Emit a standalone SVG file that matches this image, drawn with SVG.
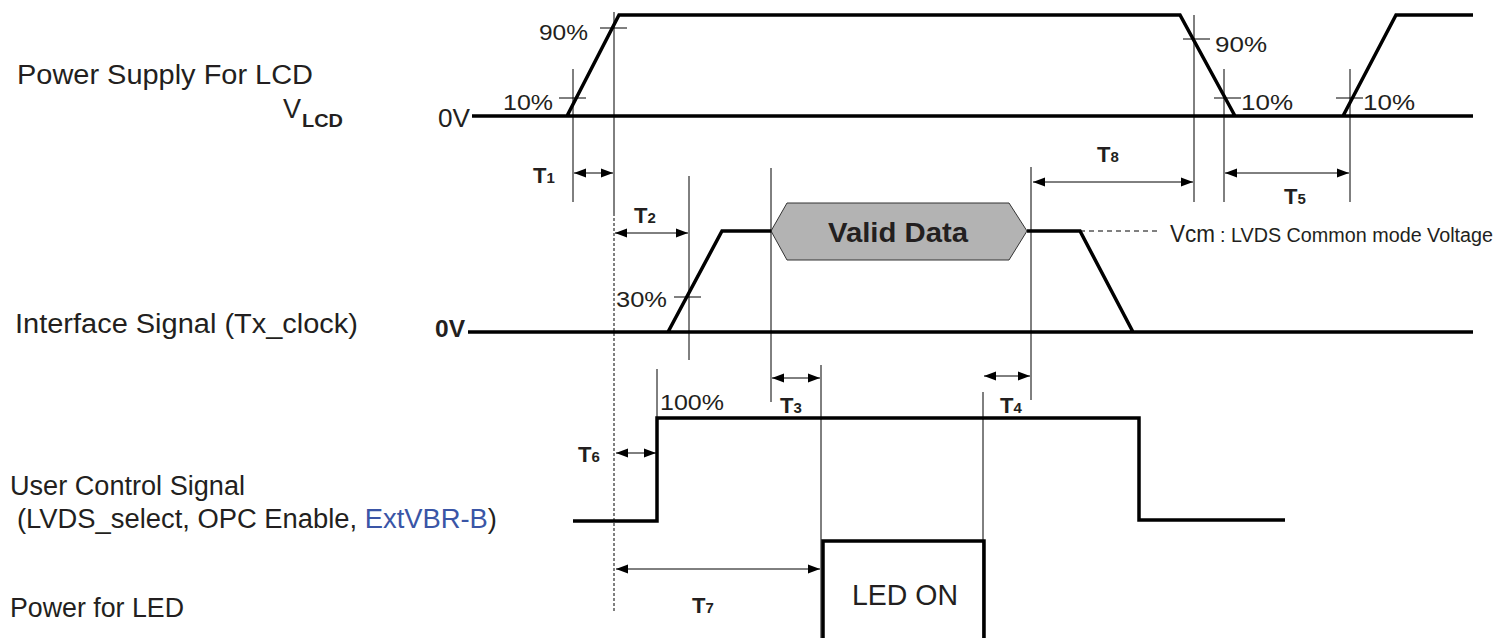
<svg xmlns="http://www.w3.org/2000/svg" width="1497" height="638" viewBox="0 0 1497 638">
<style>
text{font-family:"Liberation Sans",Arial,sans-serif;fill:#231f20}
.lbl{font-size:27px}
.pct{font-size:22px}
.t{font-size:22px;font-weight:bold}
.sub{font-size:15px;font-weight:bold}
.sig{fill:none;stroke:#000;stroke-width:3.5;stroke-linejoin:miter}
.ref{fill:none;stroke:#000;stroke-width:1}
.tick{fill:none;stroke:#000;stroke-width:1}
.arr{fill:none;stroke:#000;stroke-width:1;marker-start:url(#ah);marker-end:url(#ah)}
</style>
<defs>
<marker id="ah" markerUnits="userSpaceOnUse" markerWidth="13" markerHeight="10" refX="12" refY="4.5" orient="auto-start-reverse" viewBox="0 0 13 9">
<path d="M0,0 L12,4.5 L0,9 z" fill="#000"/>
</marker>
</defs>
<rect width="1497" height="638" fill="#fff"/>

<g id="labels">
<text class="lbl" x="17" y="84" textLength="296" lengthAdjust="spacingAndGlyphs">Power Supply For LCD</text>
<text class="lbl" x="283" y="118">V</text>
<text x="302" y="127" style="font-size:19px;font-weight:bold" textLength="41" lengthAdjust="spacingAndGlyphs">LCD</text>
<text class="lbl" x="15" y="333" textLength="343" lengthAdjust="spacingAndGlyphs">Interface Signal (Tx_clock)</text>
<text class="lbl" x="10" y="495" textLength="235" lengthAdjust="spacingAndGlyphs">User Control Signal</text>
<text class="lbl" x="17" y="528" textLength="480" lengthAdjust="spacingAndGlyphs">(LVDS_select, OPC Enable, <tspan style="fill:#3a55a6">ExtVBR-B</tspan>)</text>
<text class="lbl" x="10" y="617" textLength="174" lengthAdjust="spacingAndGlyphs">Power for LED</text>
</g>

<g id="vlcd">
<text x="438" y="127" style="font-size:25px" textLength="32" lengthAdjust="spacingAndGlyphs">0V</text>
<path class="sig" d="M472,116 H1473 M567,116 L619,15 H1180 L1235,116 M1343,116 L1396,15 H1473"/>
<text class="pct" x="539" y="40" textLength="49" lengthAdjust="spacingAndGlyphs">90%</text>
<text class="pct" x="503" y="110" textLength="50" lengthAdjust="spacingAndGlyphs">10%</text>
<text class="pct" x="1215" y="52" textLength="52" lengthAdjust="spacingAndGlyphs">90%</text>
<text class="pct" x="1241" y="110" textLength="52" lengthAdjust="spacingAndGlyphs">10%</text>
<text class="pct" x="1363" y="110" textLength="52" lengthAdjust="spacingAndGlyphs">10%</text>
<path class="tick" d="M600,28 H627 M559,98 H586 M1183,39 H1210 M1214,98 H1241 M1336,98 H1363"/>
</g>

<g id="interface">
<text x="435" y="337" style="font-size:23px;font-weight:bold" textLength="30" lengthAdjust="spacingAndGlyphs">0V</text>
<path class="sig" d="M468,332 H1473 M668,332 L722,231 H771 M1027,231 H1080 L1133,332"/>
<path d="M1080,231 H1157" fill="none" stroke="#000" stroke-width="1" stroke-dasharray="5,4"/>
<text class="pct" x="616" y="307" textLength="51" lengthAdjust="spacingAndGlyphs">30%</text>
<path class="tick" d="M674,297 H701"/>
<text x="1170" y="242" style="font-size:24px" textLength="45" lengthAdjust="spacingAndGlyphs">Vcm</text>
<text x="1220" y="242" style="font-size:20px" textLength="273" lengthAdjust="spacingAndGlyphs">: LVDS Common mode Voltage</text>
</g>

<g id="valid-data">
<polygon points="771,231 787,203 1009,203 1027,231 1009,260 787,260" fill="#b3b3b3" stroke="#333" stroke-width="1"/>
<text x="828" y="242" style="font-size:28px;font-weight:bold" textLength="140" lengthAdjust="spacingAndGlyphs">Valid Data</text>
</g>

<g id="user-control">
<path class="sig" d="M573,521 H657 V418 H1139 V520 H1285"/>
<text class="pct" x="660" y="410" textLength="64" lengthAdjust="spacingAndGlyphs">100%</text>
</g>

<g id="led">
<path class="sig" d="M823,638 V541 H984 V638"/>
<text x="852" y="605" style="font-size:29px" textLength="106" lengthAdjust="spacingAndGlyphs">LED ON</text>
</g>

<g id="connectors">
<path class="ref" d="M573,69 V202 M614,12 V213 M689,176 V360 M771,168 V402 M821,365 V638 M983,392 V638 M1031,167 V400 M1194,15 V202 M1224,69 V202 M1350,69 V202 M657,369 V418"/>
<path d="M614,213 V613" fill="none" stroke="#000" stroke-width="1" stroke-dasharray="3,2"/>
<path class="arr" d="M574,173 H613"/>
<path class="arr" d="M615,233 H688"/>
<path class="arr" d="M1033,182 H1193"/>
<path class="arr" d="M1225,173 H1349"/>
<path class="arr" d="M772,378 H820"/>
<path class="arr" d="M984,376 H1030"/>
<path class="arr" d="M616,453 H656"/>
<path class="arr" d="M616,569 H820"/>
</g>

<g id="timing-labels">
<text class="t" x="533" y="183">T<tspan class="sub">1</tspan></text>
<text class="t" x="634" y="223">T<tspan class="sub">2</tspan></text>
<text class="t" x="780" y="413">T<tspan class="sub">3</tspan></text>
<text class="t" x="1000" y="413">T<tspan class="sub">4</tspan></text>
<text class="t" x="1284" y="204">T<tspan class="sub">5</tspan></text>
<text class="t" x="578" y="462">T<tspan class="sub">6</tspan></text>
<text class="t" x="692" y="613">T<tspan class="sub">7</tspan></text>
<text class="t" x="1097" y="162">T<tspan class="sub">8</tspan></text>
</g>
</svg>
